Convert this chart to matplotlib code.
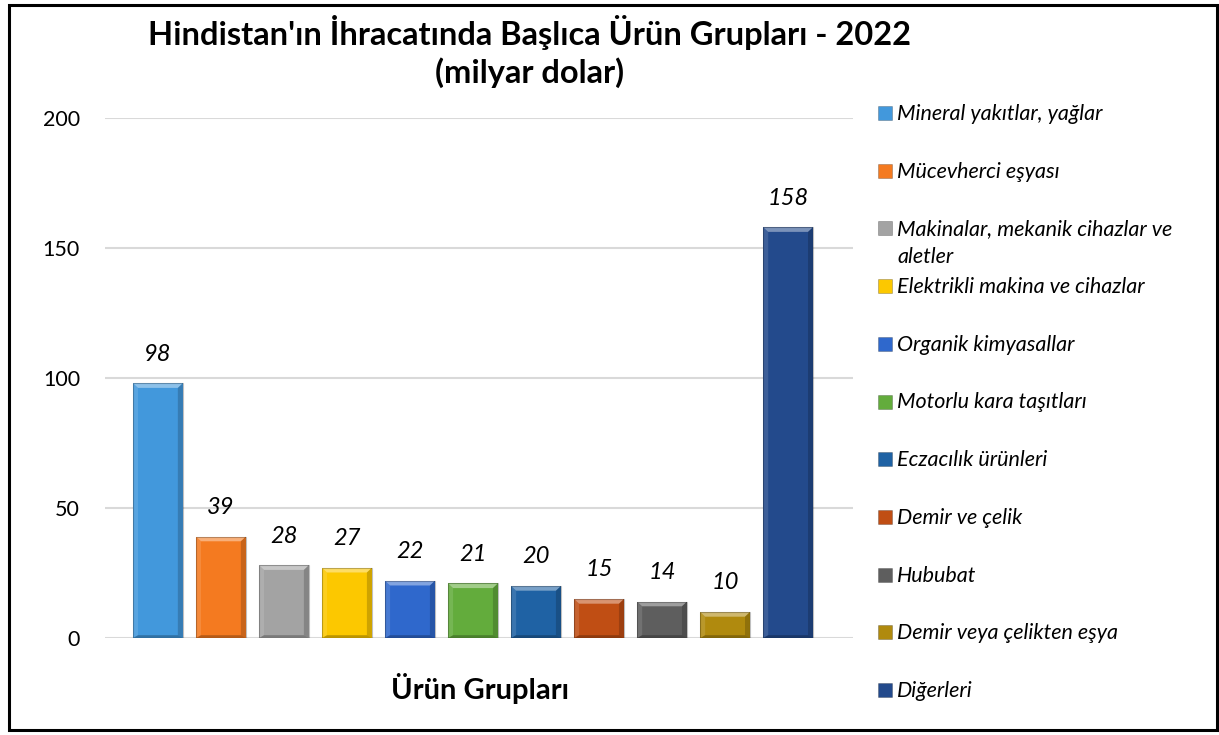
import matplotlib
matplotlib.use("Agg")
import matplotlib.pyplot as plt
from matplotlib.patches import Polygon, Rectangle

plt.rcParams['font.family'] = ['Lato', 'DejaVu Sans']

# data
categories = ["Mineral yakıtlar, yağlar", "Mücevherci eşyası",
              "Makinalar, mekanik cihazlar ve\naletler",
              "Elektrikli makina ve cihazlar", "Organik kimyasallar",
              "Motorlu kara taşıtları", "Eczacılık ürünleri", "Demir ve çelik",
              "Hububat", "Demir veya çelikten eşya", "Diğerleri"]
values = [98, 39, 28, 27, 22, 21, 20, 15, 14, 10, 158]
colors = ["#4298dc", "#f47a20", "#a3a3a3", "#fcc800", "#2f68cc", "#63ac3c",
          "#1f62a4", "#c04e14", "#5e5e5e", "#b08a0e", "#234a8c"]
yticks = [0, 50, 100, 150, 200]

W, H = 1219, 735
fig = plt.figure(figsize=(W / 100, H / 100), dpi=100)
ax = fig.add_axes([105 / W, 1 - 638 / H, 748 / W, 520 / H])

width = 0.79
x = list(range(len(values)))
bars = ax.bar(x, values, width=width, color=colors, edgecolor="none", zorder=3)

# bevel look: lighter top, darker sides
for b in bars:
    x0, w, h = b.get_x(), b.get_width(), b.get_height()
    dx = w * 0.1
    dy = min(1.8, h * 0.25)
    ax.add_patch(Polygon([[x0, h], [x0 + w, h], [x0 + w - dx, h - dy], [x0 + dx, h - dy]],
                         closed=True, facecolor="white", alpha=0.4, edgecolor="none", zorder=4))
    ax.add_patch(Polygon([[x0, 0], [x0 + dx, dy * 0.6], [x0 + dx, h - dy], [x0, h]],
                         closed=True, facecolor="white", alpha=0.12, edgecolor="none", zorder=4))
    ax.add_patch(Polygon([[x0 + w, 0], [x0 + w - dx, dy * 0.6], [x0 + w - dx, h - dy], [x0 + w, h]],
                         closed=True, facecolor="black", alpha=0.18, edgecolor="none", zorder=4))
    ax.add_patch(Polygon([[x0, 0], [x0 + w, 0], [x0 + w - dx, dy * 0.6], [x0 + dx, dy * 0.6]],
                         closed=True, facecolor="black", alpha=0.25, edgecolor="none", zorder=4))
    ax.add_patch(Rectangle((x0, 0), w, h, facecolor="none", edgecolor="black",
                           alpha=0.25, lw=0.8, zorder=5))

for xi, v in zip(x, values):
    ax.annotate(str(v), (xi, v), xytext=(0, 21), textcoords="offset points",
                ha="center", va="center", fontsize=17, style="italic", color="black")

ax.set_xlim(-0.84, len(values) - 1 + 1.03)
ax.set_ylim(0, 200)
ax.set_yticks(yticks)
ax.set_xticks([])
ax.tick_params(axis="y", length=0, pad=18, labelsize=15.5)
ax.grid(axis="y", color="#d9d9d9", lw=1.5, zorder=0)
for s in ax.spines.values():
    s.set_visible(False)

fig.text(480 / W, 1 - 688 / H, "Ürün Grupları", ha="center", va="center",
         fontsize=21, fontweight="bold")

fig.text(530 / W, 1 - 33 / H, "Hindistan'ın İhracatında Başlıca Ürün Grupları - 2022",
         ha="center", va="center", fontsize=23.5, fontweight="bold")
fig.text(530 / W, 1 - 73 / H, "(milyar dolar)",
         ha="center", va="center", fontsize=23.5, fontweight="bold")

# legend, drawn entry by entry so the wrapped label keeps the even spacing
step = (690 - 113) / (len(categories) - 1)
for i, (lab, c) in enumerate(zip(categories, colors)):
    yc = 113 + i * step
    fig.patches.append(Rectangle((878 / W, 1 - (yc + 7) / H), 14 / W, 14 / H,
                                 transform=fig.transFigure, facecolor=c,
                                 edgecolor="#00000040", lw=0.6))
    fig.text(897 / W, 1 - (yc - 9) / H, lab, ha="left", va="top", fontsize=15.5,
             style="italic", linespacing=1.45)

fig.patches.append(Rectangle((9 / W, 5 / H), 1208 / W, 725 / H, transform=fig.transFigure,
                             facecolor="none", edgecolor="black", lw=2.2))

fig.savefig("out.png", dpi=100)
